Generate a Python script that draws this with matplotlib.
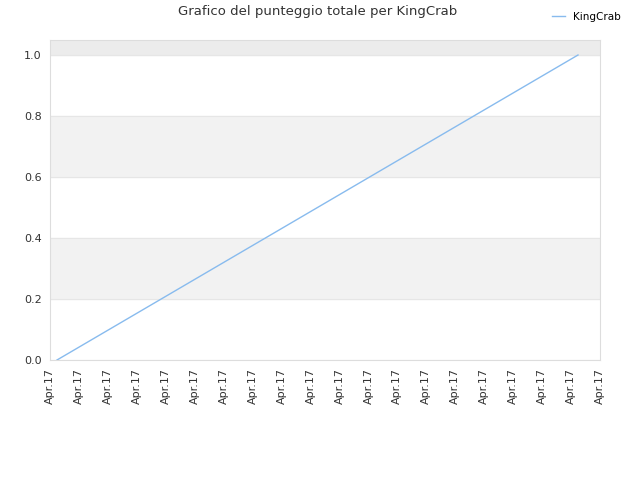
import matplotlib
matplotlib.use('Agg')
import matplotlib.pyplot as plt
import numpy as np

# data: total score for KingCrab (both points on Apr.17)
x_vals = [0, 1]
scores = [0.0, 1.0]
y_ticks = [0.0, 0.2, 0.4, 0.6, 0.8, 1.0]
x_tick_labels = ['Apr.17'] * 20

fig = plt.figure(figsize=(6.4, 4.8), dpi=100)
ax = fig.add_axes([50 / 640, 120 / 480, 550 / 640, 320 / 480])

x_lo, x_hi = -7 / 521, 1 + 22 / 521
y_hi = 1 + 15 / 305

# alternating bands
ax.axhspan(0.2, 0.4, color='#f2f2f2', zorder=0)
ax.axhspan(0.6, 0.8, color='#f2f2f2', zorder=0)
ax.axhspan(1.0, y_hi, color='#ececec', zorder=0)
for y in y_ticks:
    ax.axhline(y, color='#e6e6e6', lw=0.8, zorder=1)

ax.plot(x_vals, scores, color='#88bbee', lw=1, label='KingCrab', zorder=3)

ax.set_xlim(x_lo, x_hi)
ax.set_ylim(0, y_hi)
ax.set_yticks(y_ticks)
ax.set_yticklabels(['%.1f' % v for v in y_ticks])
ax.set_xticks(np.linspace(x_lo, x_hi, len(x_tick_labels)))
ax.set_xticklabels(x_tick_labels, rotation=90)
ax.tick_params(length=0, labelsize=8, colors='#333333', pad=6)

for s in ax.spines.values():
    s.set_color('#dddddd')

fig.suptitle('Grafico del punteggio totale per KingCrab', x=0.497, y=0.99,
             fontsize=9.5, color='#333333')
fig.legend(loc='upper right', bbox_to_anchor=(0.985, 0.995), frameon=False,
           fontsize=7.5, handlelength=1.2)

fig.savefig('out.png', dpi=100)
